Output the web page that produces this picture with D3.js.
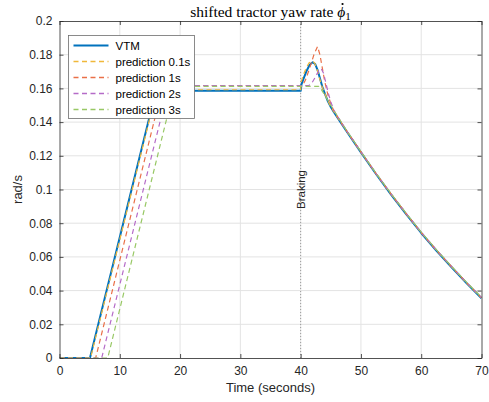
<!DOCTYPE html>
<html>
<head>
<meta charset="utf-8">
<script src="https://cdn.jsdelivr.net/npm/d3@7/dist/d3.min.js"></script>
<style>
  html, body { margin: 0; padding: 0; background: #fff; }
  svg { display: block; }
</style>
</head>
<body>
<svg id="chart" width="489" height="402"></svg>
<script>
// Tractor yaw rate (rad/s) from the vehicle model and the shifted predictions
const vtmT = [0, 5.05, 16.0, 40.0, 40.15, 40.5, 41.0, 41.5, 42.0, 42.4, 42.8, 43.2, 43.6, 44.0, 44.5, 45.0, 45.5, 46.5, 47.5, 50, 52.5, 55, 57.5, 60, 62.5, 65, 67.5, 70];
const vtmV = [0, 0, 0.1586, 0.1586, 0.1625, 0.1660, 0.1705, 0.1740, 0.1755, 0.1745, 0.1710, 0.1660, 0.1610, 0.1570, 0.1525, 0.1490, 0.1460, 0.1405, 0.1352, 0.1220, 0.1092, 0.0970, 0.0854, 0.0742, 0.0638, 0.0540, 0.0445, 0.0355];

const p01T = [0, 5.15, 16.15, 40.0, 40.1, 40.4, 40.9, 41.4, 41.9, 42.3, 42.7, 43.1, 43.5, 44.0, 44.5, 45.0, 45.5, 46.5, 47.5, 50, 52.5, 55, 57.5, 60, 62.5, 65, 67.5, 70];
const p01V = [0, 0, 0.1592, 0.1592, 0.1640, 0.1675, 0.1720, 0.1752, 0.1762, 0.1752, 0.1715, 0.1665, 0.1615, 0.1570, 0.1527, 0.1492, 0.1462, 0.1407, 0.1354, 0.1222, 0.1094, 0.0972, 0.0856, 0.0744, 0.0640, 0.0542, 0.0447, 0.0357];

const p1T = [0, 6.0, 17.15, 40.3, 40.8, 41.5, 42.2, 42.8, 43.2, 43.6, 44.0, 44.5, 45.0, 45.5, 46.5, 47.5, 50, 52.5, 55, 57.5, 60, 62.5, 65, 67.5, 70];
const p1V = [0, 0, 0.1616, 0.1616, 0.1650, 0.1720, 0.1800, 0.1848, 0.1800, 0.1720, 0.1640, 0.1565, 0.1510, 0.1468, 0.1410, 0.1355, 0.1223, 0.1095, 0.0973, 0.0857, 0.0745, 0.0641, 0.0543, 0.0448, 0.0358];

const p2T = [0, 7.0, 18.15, 41.3, 41.8, 42.4, 43.0, 43.4, 43.8, 44.2, 44.6, 45.0, 45.5, 46.0, 46.5, 47.5, 50, 52.5, 55, 57.5, 60, 62.5, 65, 67.5, 70];
const p2V = [0, 0, 0.1616, 0.1616, 0.1628, 0.1665, 0.1705, 0.1718, 0.1690, 0.1630, 0.1570, 0.1520, 0.1472, 0.1440, 0.1413, 0.1356, 0.1224, 0.1096, 0.0974, 0.0858, 0.0746, 0.0642, 0.0544, 0.0449, 0.0359];

const p3T = [0, 8.0, 19.1, 43.0, 43.5, 44.0, 44.5, 45.0, 45.5, 46.0, 46.5, 47.5, 50, 52.5, 55, 57.5, 60, 62.5, 65, 67.5, 70];
const p3V = [0, 0, 0.1612, 0.1612, 0.1590, 0.1560, 0.1530, 0.1500, 0.1470, 0.1442, 0.1414, 0.1357, 0.1225, 0.1097, 0.0975, 0.0859, 0.0747, 0.0643, 0.0545, 0.0450, 0.0360];

const seriesNames = ["VTM", "prediction 0.1s", "prediction 1s", "prediction 2s", "prediction 3s"];
const xTicks = [0, 10, 20, 30, 40, 50, 60, 70];
const yTicks = [0, 0.02, 0.04, 0.06, 0.08, 0.1, 0.12, 0.14, 0.16, 0.18, 0.2];
const brakingTime = 40;

const series = [
  { name: seriesNames[0], t: vtmT, v: vtmV, color: "#0072BD", width: 2, dash: null },
  { name: seriesNames[1], t: p01T, v: p01V, color: "#F0B83A", width: 1.2, dash: "5,3.5" },
  { name: seriesNames[2], t: p1T,  v: p1V,  color: "#EA7048", width: 1.2, dash: "5,3.5" },
  { name: seriesNames[3], t: p2T,  v: p2V,  color: "#B56BC8", width: 1.2, dash: "5,3.5" },
  { name: seriesNames[4], t: p3T,  v: p3V,  color: "#98C865", width: 1.2, dash: "5,3.5" }
];

const plotL = 59.5, plotR = 481.5, plotT = 21, plotB = 358;
const x = d3.scaleLinear().domain([0, 70]).range([plotL, plotR]);
const y = d3.scaleLinear().domain([0, 0.2]).range([plotB, plotT]);

const svg = d3.select("#chart");
const font = "'Liberation Sans', Arial, Helvetica, sans-serif";
const axisColor = "#262626";

// grid
const grid = svg.append("g");
grid.selectAll(".gx").data(xTicks.slice(1, -1)).join("line")
  .attr("x1", d => x(d)).attr("x2", d => x(d))
  .attr("y1", plotT).attr("y2", plotB)
  .attr("stroke", "#e3e3e3").attr("stroke-width", 1);
grid.selectAll(".gy").data(yTicks.slice(1, -1)).join("line")
  .attr("x1", plotL).attr("x2", plotR)
  .attr("y1", d => y(d)).attr("y2", d => y(d))
  .attr("stroke", "#e3e3e3").attr("stroke-width", 1);

// braking marker
svg.append("line")
  .attr("x1", x(brakingTime)).attr("x2", x(brakingTime))
  .attr("y1", plotT).attr("y2", plotB)
  .attr("stroke", "#9a9a9a").attr("stroke-width", 1)
  .attr("stroke-dasharray", "1,2");
svg.append("text")
  .attr("transform", `translate(${x(brakingTime) + 4},${y(0.1)}) rotate(-90)`)
  .attr("text-anchor", "middle")
  .attr("font-family", font).attr("font-size", 11.5)
  .attr("fill", axisColor)
  .text("Braking");

// series
svg.append("clipPath").attr("id", "plotclip")
  .append("rect").attr("x", plotL).attr("y", plotT).attr("width", plotR - plotL).attr("height", plotB - plotT);

const line = d3.line()
  .x(d => x(d[0])).y(d => y(d[1]));

const plot = svg.append("g").attr("clip-path", "url(#plotclip)");
series.forEach(s => {
  const pts = s.t.map((t, i) => [t, s.v[i]]);
  plot.append("path")
    .datum(pts)
    .attr("d", line)
    .attr("fill", "none")
    .attr("stroke", s.color)
    .attr("stroke-width", s.width)
    .attr("stroke-dasharray", s.dash)
    .attr("stroke-linejoin", "round");
});

// axes with inward ticks on all four sides
const tickLen = 4;
const axB = svg.append("g").attr("transform", `translate(0,${plotB})`)
  .call(d3.axisBottom(x).tickValues(xTicks).tickSizeInner(-tickLen).tickSizeOuter(0).tickPadding(8).tickFormat(d3.format("d")));
const axT = svg.append("g").attr("transform", `translate(0,${plotT})`)
  .call(d3.axisTop(x).tickValues(xTicks).tickSizeInner(-tickLen).tickSizeOuter(0).tickFormat(""));
const axL = svg.append("g").attr("transform", `translate(${plotL},0)`)
  .call(d3.axisLeft(y).tickValues(yTicks).tickSizeInner(-tickLen).tickSizeOuter(0).tickPadding(7).tickFormat(d => d === 0 ? "0" : String(+d.toFixed(2))));
const axR = svg.append("g").attr("transform", `translate(${plotR},0)`)
  .call(d3.axisRight(y).tickValues(yTicks).tickSizeInner(-tickLen).tickSizeOuter(0).tickFormat(""));

[axB, axT, axL, axR].forEach(a => {
  a.select(".domain").attr("stroke", axisColor).attr("stroke-width", 0.8);
  a.selectAll(".tick line").attr("stroke", axisColor).attr("stroke-width", 0.8);
  a.selectAll(".tick text").attr("font-family", font).attr("font-size", 12).attr("fill", axisColor);
});

// axis labels
svg.append("text")
  .attr("x", (plotL + plotR) / 2).attr("y", 392)
  .attr("text-anchor", "middle")
  .attr("font-family", font).attr("font-size", 13).attr("fill", axisColor)
  .text("Time (seconds)");
svg.append("text")
  .attr("transform", `translate(22,${(plotT + plotB) / 2}) rotate(-90)`)
  .attr("text-anchor", "middle")
  .attr("font-family", font).attr("font-size", 13).attr("fill", axisColor)
  .text("rad/s");

// title: text, italic phi with a dot above (time derivative) and subscript 1
const serif = "'Liberation Serif', 'DejaVu Serif', serif";
const prefix = "shifted tractor yaw rate ";
const titleBase = 17;
const title = svg.append("text")
  .attr("x", (plotL + plotR) / 2).attr("y", titleBase)
  .attr("text-anchor", "middle")
  .attr("font-family", serif)
  .attr("font-size", 15.5).attr("fill", "#000");
title.append("tspan").text(prefix);
title.append("tspan").attr("font-style", "italic").text("\u03D5");
title.append("tspan").attr("font-size", 11).attr("dy", 3).text("1");
const phiBox = title.node().getExtentOfChar(prefix.length);
svg.append("circle")
  .attr("cx", phiBox.x + phiBox.width / 2 + 1.2)
  .attr("cy", titleBase - 13)
  .attr("r", 1.1)
  .attr("fill", "#000");

// legend
const lg = svg.append("g").attr("transform", "translate(68.5,35.5)");
lg.append("rect").attr("width", 126).attr("height", 83)
  .attr("fill", "#fff").attr("stroke", "#6e6e6e").attr("stroke-width", 0.8);
series.forEach((s, i) => {
  const yy = 10 + i * 16;
  lg.append("line")
    .attr("x1", 5).attr("x2", 40).attr("y1", yy).attr("y2", yy)
    .attr("stroke", s.color).attr("stroke-width", s.dash ? 1.5 : s.width)
    .attr("stroke-dasharray", s.dash);
  lg.append("text")
    .attr("x", 47).attr("y", yy + 4)
    .attr("font-family", font).attr("font-size", 11.5).attr("fill", "#000")
    .text(s.name);
});
</script>
</body>
</html>
